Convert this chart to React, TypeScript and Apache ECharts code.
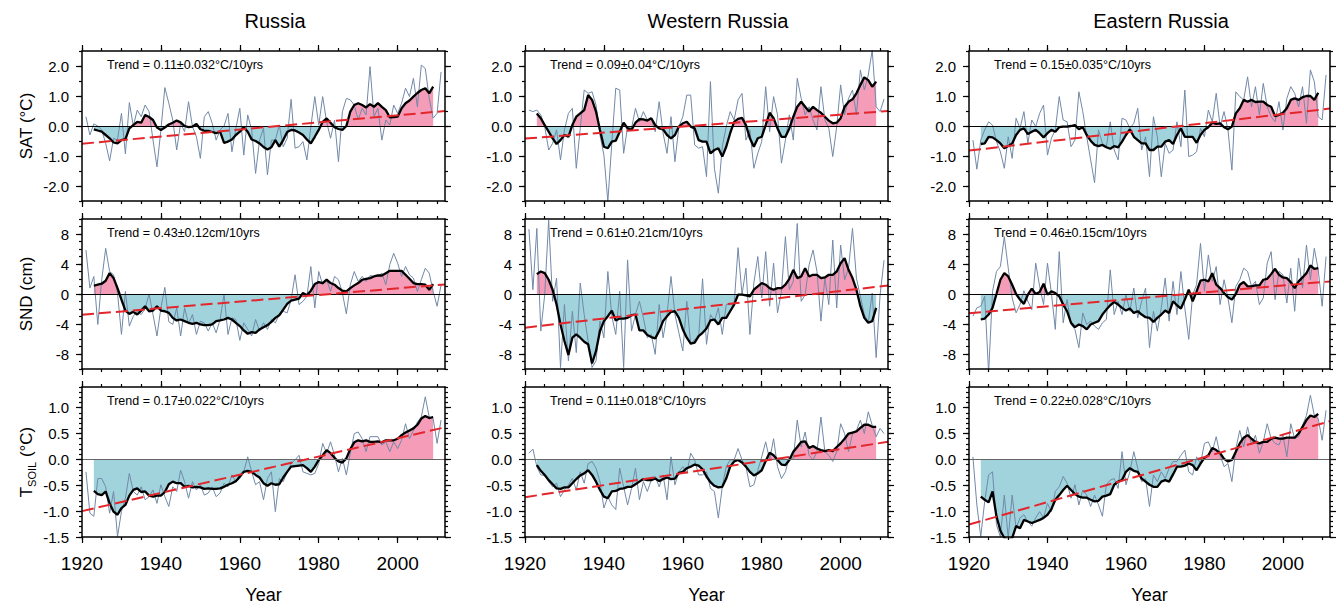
import React, { useEffect, useRef } from "react";
import * as echarts from "echarts";

// ---------------- data ----------------
const ANNUAL_START = 1921; // first year of the annual series
const SMOOTH_START = 1923; // first year of the smoothed series
const X_MIN = 1920;
const X_MAX = 2012;

const satRussiaAnnual = [
  0.31, -0.3, 0.07, 0.0, -0.13, -0.58, -1.16, -0.41, -0.47, 0.42,
  -0.93, 0.78, 0.0, 0.53, 0.31, 0.7, 0.48, -0.47, -1.36, -0.13,
  1.28, 0.76, 0.2, -0.8, 0.09, -0.19, 0.81, -0.02, -0.36, -1.08,
  0.31, 0.48, 0.09, -0.47, -0.13, 0.0, 0.42, -0.86, -0.08, 0.59,
  -0.97, 0.37, -0.13, -1.58, -0.47, -0.08, -1.63, -0.47, -0.47, 0.03,
  -0.69, -0.41, 0.89, -0.74, -0.69, -0.52, -1.13, -0.02, 0.98, 0.03,
  0.98, 0.14, -0.41, 0.2, -1.19, 0.48, 0.92, 0.87, 0.7, 0.2,
  0.59, 0.37, 1.98, 0.31, 0.59, -0.47, 0.2, 0.03, 0.7, 0.42,
  0.76, 1.26, 0.98, 1.59, 0.64, 2.03, 1.92, 0.92, 0.26, 0.42,
  1.8,
];
const satRussiaSmooth = [
  -0.11, -0.15, -0.19, -0.3, -0.41, -0.55, -0.58, -0.47, -0.44, -0.08,
  0.03, 0.14, 0.11, 0.37, 0.3, 0.2, -0.05, -0.13, -0.05, 0.05,
  0.11, 0.18, 0.12, 0.0, -0.04, -0.02, 0.07, -0.11, -0.16, -0.16,
  -0.2, -0.24, -0.19, -0.56, -0.52, -0.45, -0.3, -0.19, -0.04, -0.19,
  -0.45, -0.5, -0.58, -0.7, -0.78, -0.71, -0.47, -0.69, -0.47, -0.2,
  -0.13, -0.15, -0.22, -0.3, -0.45, -0.58, -0.36, -0.13, 0.14, 0.25,
  0.11, -0.04, -0.1, -0.13, 0.0, 0.48, 0.7, 0.76, 0.7, 0.62,
  0.73, 0.64, 0.76, 0.64, 0.53, 0.29, 0.3, 0.31, 0.59, 0.76,
  0.85, 0.98, 1.1, 1.2, 1.26, 1.09, 1.31,
];
const satWestAnnual = [
  0.53, 0.48, 0.53, 0.37, -0.02, -0.8, -0.58, -0.13, -1.13, -0.13,
  0.42, 0.59, -1.41, -0.08, 1.2, 1.09, 1.14, 0.7, -0.3, -0.97,
  -2.52, -0.58, 1.26, 1.2, -0.91, -0.02, -0.08, 0.59, 0.14, 0.48,
  0.2, 0.26, -0.19, 0.81, -0.24, -0.91, 0.31, -1.19, -0.02, 0.31,
  1.03, 1.03, -0.63, -0.74, -0.69, -1.69, 1.48, -1.41, -2.24, -0.69,
  -0.02, 0.48, 0.2, 0.87, 1.09, -0.47, -0.13, -1.41, -0.91, -0.52,
  1.31, -0.19, 0.98, 0.37, -1.24, -0.47, 0.37, -0.47, 1.59, 0.92,
  0.37, 0.64, 0.2, -0.13, 1.31, 0.2, -0.08, -1.02, -0.02, 1.37,
  0.37, 0.92, 1.2, 0.37, 1.87, 1.2, 1.7, 2.53, 0.64, 0.48,
  0.9,
];
const satWestSmooth = [
  0.42, 0.26, 0.03, -0.19, -0.41, -0.6, -0.47, -0.3, -0.36, 0.03,
  0.31, 0.42, 0.53, 1.03, 0.87, 0.48, -0.13, -0.69, -0.74, -0.52,
  -0.49, -0.19, 0.11, -0.08, -0.13, 0.11, 0.23, 0.22, 0.18, 0.26,
  0.03, -0.08, -0.11, -0.3, -0.41, -0.3, -0.02, 0.09, 0.14, -0.02,
  -0.08, -0.47, -0.52, -0.52, -0.91, -0.8, -0.74, -1.02, -0.69, -0.24,
  0.14, 0.24, 0.27, 0.03, -0.41, -0.69, -0.41, -0.36, 0.03, 0.44,
  0.26, -0.08, -0.36, -0.36, -0.08, 0.31, 0.64, 0.81, 0.64, 0.48,
  0.64, 0.53, 0.44, 0.31, 0.18, 0.09, 0.11, 0.26, 0.64, 0.81,
  0.89, 1.09, 1.37, 1.62, 1.53, 1.31, 1.48,
];
const satEastAnnual = [
  -0.47, -1.44, -0.47, -0.13, 0.14, 0.03, -0.52, -0.86, -1.41, -0.36,
  -1.08, 0.26, -0.08, 0.48, -0.58, 0.2, -0.02, 0.42, 0.7, -0.97,
  -0.41, -0.13, 0.98, 0.2, 0.14, -0.69, -0.47, 1.14, 0.48, -0.36,
  -1.13, -1.89, -0.13, -0.58, -0.69, 0.14, -0.8, -1.13, 0.26, 0.2,
  -0.08, 0.09, 0.59, -0.8, -0.36, -1.69, 0.31, -0.36, -1.69, -0.58,
  -0.91, -0.8, 0.14, -0.69, 1.2, -1.02, -0.97, -0.86, -0.08, -0.36,
  0.53, 0.14, 1.09, -0.02, 0.48, -0.13, -1.47, 1.14, 0.98, 0.87,
  1.64, 0.64, 1.31, 0.37, 1.42, 0.64, 0.31, 0.14, 0.81, -0.13,
  0.92, 1.31, 1.09, 0.64, 1.31, 0.09, 1.87, 1.48, 0.31, 0.2,
  1.7,
];
const satEastSmooth = [
  -0.6, -0.58, -0.36, -0.38, -0.47, -0.58, -0.74, -0.67, -0.58, -0.3,
  -0.13, -0.08, -0.27, -0.19, -0.13, -0.24, -0.38, -0.24, -0.13, -0.19,
  -0.04, -0.02, -0.02, 0.0, 0.03, -0.11, -0.04, -0.3, -0.49, -0.63,
  -0.67, -0.63, -0.71, -0.76, -0.67, -0.71, -0.52, -0.3, -0.11, -0.36,
  -0.47, -0.58, -0.58, -0.8, -0.8, -0.69, -0.69, -0.52, -0.47, -0.6,
  -0.3, -0.08, -0.36, -0.36, -0.36, -0.56, -0.3, -0.13, -0.04, 0.11,
  0.07, 0.09, -0.04, -0.11, -0.02, 0.42, 0.59, 0.87, 0.81, 0.87,
  0.8, 0.81, 0.81, 0.7, 0.64, 0.33, 0.37, 0.44, 0.59, 0.87,
  0.92, 0.87, 0.96, 1.0, 1.0, 0.87, 1.11,
];

const sndRussiaAnnual = [
  5.87, 0.79, 2.34, -4.06, 1.9, 6.09, 3.0, 2.56, 0.13, -5.39,
  0.35, -4.28, -2.96, -2.3, -2.74, -1.94, 0.0, -2.74, -5.6, -1.85,
  0.88, -3.7, -4.06, -1.85, -5.6, -1.85, -3.97, -2.74, -5.39, -3.62,
  -3.84, -4.94, -3.84, -5.17, -3.4, 0.0, -5.39, -3.18, -3.4, -6.18,
  -3.84, -4.72, -5.6, -3.4, -4.94, -3.84, -4.72, -3.4, -3.84, -2.74,
  -2.3, -2.52, -0.75, 2.56, -1.41, -0.97, -0.31, 3.66, -1.85, 3.0,
  1.24, 1.9, 0.35, 2.34, 1.9, 0.13, -2.65, 1.24, 3.0, 1.68,
  2.34, 1.68, 2.47, 2.34, 2.34, 2.78, 1.24, 3.89, 5.43, 4.11,
  2.34, 3.66, 2.56, 2.12, 0.35, 1.9, 3.44, 2.78, 0.35, -1.63,
  1.2,
];
const sndRussiaSmooth = [
  1.1, 1.24, 1.37, 1.77, 2.78, 2.12, 0.79, -0.75, -2.21, -2.65,
  -2.38, -2.74, -2.21, -1.63, -2.3, -2.21, -1.63, -2.21, -2.3, -2.52,
  -3.18, -3.53, -3.4, -3.62, -3.84, -3.97, -3.84, -4.06, -4.15, -4.15,
  -4.06, -3.62, -3.53, -3.4, -3.18, -3.4, -3.84, -4.28, -4.86, -5.3,
  -5.08, -5.17, -4.72, -4.42, -4.15, -3.71, -3.18, -2.83, -2.08, -1.32,
  -0.88, -0.75, -0.62, 0.13, -0.18, 0.44, 1.32, 1.59, 1.46, 1.9,
  1.46, 1.24, 0.79, 0.44, 0.35, 0.79, 1.15, 1.46, 1.9, 2.03,
  2.12, 2.34, 2.47, 2.47, 2.78, 3.09, 3.09, 3.09, 3.09, 2.56,
  2.03, 1.46, 1.32, 1.32, 1.24, 0.57, 1.32,
];
const sndWestAnnual = [
  8.65, 0.57, 8.74, -4.94, -0.09, 9.85, -0.97, 2.12, -9.8, -1.41,
  -8.92, -2.3, -7.81, 1.46, -2.74, -6.27, -9.8, -8.92, -3.62, -5.83,
  3.0, -2.96, -5.39, 0.35, -9.8, 4.55, -4.94, -2.74, -0.97, -3.18,
  -5.83, -5.39, -8.04, -1.41, -5.83, -2.74, 2.34, -2.74, -5.17, -7.59,
  -0.97, -6.71, -6.05, -5.83, 2.03, -6.71, -2.74, -3.62, -1.85, -5.39,
  -1.41, -1.41, -1.41, 6.18, -0.09, 3.44, -5.39, 1.46, 4.99, -0.53,
  5.65, -1.63, 4.11, -2.52, 0.35, 7.64, 0.57, 1.68, 9.4, -0.97,
  -0.09, 3.89, 5.87, 3.0, -3.62, 2.12, -1.41, 7.2, -1.85, 6.53,
  1.9, 3.44, 8.74, 2.12, -0.31, -2.74, -3.84, 0.13, -8.48, -0.09,
  4.5,
];
const sndWestSmooth = [
  2.65, 3.0, 2.78, 1.9, 0.57, -1.41, -4.06, -6.27, -8.12, -5.83,
  -5.39, -5.83, -6.36, -6.71, -9.27, -7.59, -4.94, -3.62, -2.96, -2.21,
  -3.53, -3.27, -3.27, -3.18, -2.83, -2.74, -4.86, -4.86, -5.47, -5.74,
  -5.92, -4.94, -3.62, -2.96, -2.38, -2.3, -3.18, -4.72, -5.83, -6.62,
  -6.49, -5.61, -5.17, -4.59, -3.53, -3.4, -4.06, -3.18, -3.18, -2.3,
  -1.41, -0.09, -0.09, -0.18, -0.31, 0.57, 1.02, 1.46, 1.24, 0.79,
  0.57, 0.79, 0.79, 1.24, 2.03, 3.22, 2.12, 2.34, 3.44, 2.34,
  2.56, 2.56, 2.12, 2.21, 2.56, 2.56, 3.0, 4.11, 4.77, 3.22,
  2.12, 0.57, -1.63, -3.18, -3.84, -3.62, -1.85,
];
const sndEastAnnual = [
  -2.96, -1.85, -1.63, -0.31, -10.5, 0.35, 3.0, 3.66, 7.64, 3.44,
  -0.53, -2.52, -1.41, 0.44, -0.97, -2.08, 4.11, 1.02, -1.41, 4.11,
  0.13, -4.72, 5.65, -3.84, -0.75, -4.06, -4.72, -7.15, -2.52, -4.06,
  -3.62, -4.28, -4.72, -3.84, -3.4, 3.22, -2.74, -0.97, -2.74, -0.09,
  -2.3, 0.79, -3.18, -0.97, 0.79, -7.15, -2.3, -4.94, -1.85, 2.12,
  -3.62, 1.68, -2.74, 3.0, -1.85, -6.05, -0.09, 1.24, 6.75, 0.35,
  5.21, 1.68, 3.66, -1.41, 1.9, -0.53, -3.84, 1.02, 1.9, 3.44,
  3.0, 1.02, 1.68, -1.41, -0.53, 4.11, 5.65, -0.75, 3.0, 2.56,
  -1.19, 3.44, -2.3, 4.77, 0.79, 6.53, 1.9, 6.09, 3.22, -1.63,
  4.99,
];
const sndEastSmooth = [
  -3.4, -3.27, -2.74, -1.85, 0.0, 1.9, 2.78, 2.34, 1.24, 0.0,
  -0.75, -1.32, -0.09, 0.71, 0.0, 0.26, 1.37, -0.09, 0.35, 0.13,
  -0.31, -1.41, -2.3, -3.84, -4.42, -4.06, -4.28, -4.72, -4.06, -3.84,
  -3.62, -2.74, -2.08, -1.5, -1.06, -1.41, -1.85, -2.21, -1.94, -2.52,
  -2.3, -2.74, -3.09, -3.18, -3.71, -3.18, -2.74, -2.21, -2.52, -0.97,
  -1.5, -1.94, -0.75, 0.57, -0.97, 0.35, 1.77, 1.9, 1.68, 2.78,
  1.24, 0.79, 0.13, -0.44, -0.75, 0.0, 1.24, 1.59, 1.02, 1.02,
  1.15, 1.15, 1.9, 2.03, 2.65, 3.36, 2.56, 2.21, 2.12, 1.59,
  0.79, 1.68, 2.21, 2.78, 3.8, 3.36, 3.44,
];

const tsoilRussiaAnnual = [
  -0.24, -1.04, -1.1, -0.37, -0.37, -0.53, -1.04, -0.62, -1.49, -1.01,
  -0.75, -0.27, -0.62, -0.69, -0.53, -0.78, -0.72, -0.59, -0.85, -0.49,
  -0.72, -0.91, -0.53, -0.62, -0.21, -0.43, -0.75, -0.43, -0.59, -0.49,
  -0.69, -0.65, -0.53, -0.72, -0.65, -0.46, -0.53, -0.3, -0.43, -0.37,
  -0.24, 0.05, -0.24, -0.49, -0.43, -0.78, -0.37, -0.24, -1.01, -0.37,
  -0.43, -0.24, -0.08, -0.01, 0.08, -0.24, -0.27, -0.3, -0.27, -0.08,
  0.31, 0.12, 0.34, 0.08, -0.24, 0.02, -0.3, 0.12, 0.5, 0.53,
  0.4, 0.15, 0.44, 0.44, 0.44, 0.28, 0.34, 0.15, 0.34, 0.21,
  0.37, 0.69, 0.4, 0.56, 0.72, 0.82, 1.21, 0.82, 0.79, 0.31,
  0.76,
];
const tsoilRussiaSmooth = [
  -0.61, -0.67, -0.69, -0.62, -0.85, -1.01, -1.07, -0.94, -0.88, -0.7,
  -0.59, -0.56, -0.63, -0.62, -0.7, -0.72, -0.7, -0.7, -0.63, -0.48,
  -0.43, -0.46, -0.46, -0.53, -0.51, -0.54, -0.53, -0.54, -0.57, -0.56,
  -0.57, -0.57, -0.56, -0.53, -0.49, -0.46, -0.42, -0.33, -0.24, -0.22,
  -0.24, -0.3, -0.35, -0.46, -0.51, -0.46, -0.49, -0.48, -0.35, -0.24,
  -0.14, -0.13, -0.12, -0.11, -0.17, -0.24, -0.14, -0.01, 0.08, 0.18,
  0.12, 0.03, -0.04, -0.06, 0.02, 0.2, 0.33, 0.37, 0.35, 0.37,
  0.34, 0.34, 0.35, 0.33, 0.37, 0.37, 0.37, 0.4, 0.47, 0.52,
  0.56, 0.6, 0.67, 0.79, 0.84, 0.8, 0.82,
];
const tsoilWestAnnual = [
  0.12, 0.2, -0.14, -0.3, -0.31, -0.43, -0.53, -0.46, -0.72, -0.59,
  -0.49, -0.37, -0.59, -0.24, -0.46, -0.08, -0.04, -0.17, -0.43, -0.94,
  -0.72, -0.88, -0.97, -0.17, -0.53, -0.88, -0.56, -0.17, -0.78, -0.43,
  -0.62, -0.4, -0.33, -0.53, -0.3, -0.78, 0.05, -0.49, -0.24, -0.14,
  -0.27, 0.12, -0.01, -0.3, -0.3, -0.24, -0.56, -0.62, -1.13, -0.53,
  -0.14, -0.01, -0.01, 0.21, -0.01, -0.14, -0.53, -0.49, -0.21, 0.05,
  0.34, -0.01, 0.4, -0.14, -0.37, -0.24, 0.05, 0.02, 0.76, 0.24,
  0.53, 0.08, -0.01, 0.15, 0.82, 0.15, 0.08, -0.04, 0.15, 0.69,
  0.5, 0.15, 0.5, 0.56, 0.76, 0.5, 0.92, 0.66, 0.44, 0.6,
  0.5,
];
const tsoilWestSmooth = [
  -0.11, -0.22, -0.3, -0.4, -0.48, -0.56, -0.57, -0.54, -0.54, -0.46,
  -0.38, -0.31, -0.27, -0.21, -0.3, -0.43, -0.59, -0.72, -0.75, -0.62,
  -0.61, -0.57, -0.56, -0.53, -0.53, -0.48, -0.43, -0.38, -0.4, -0.4,
  -0.37, -0.42, -0.38, -0.35, -0.38, -0.37, -0.26, -0.24, -0.17, -0.14,
  -0.1, -0.12, -0.19, -0.33, -0.44, -0.51, -0.54, -0.53, -0.37, -0.14,
  -0.04, -0.01, -0.06, -0.14, -0.24, -0.31, -0.27, -0.21, -0.03, 0.13,
  0.08, -0.01, -0.1, -0.11, -0.01, 0.15, 0.24, 0.34, 0.35, 0.22,
  0.26, 0.21, 0.18, 0.16, 0.18, 0.16, 0.24, 0.31, 0.4, 0.5,
  0.52, 0.54, 0.61, 0.67, 0.67, 0.63, 0.63,
];
const tsoilEastAnnual = [
  0.05, -0.88, -1.49, -0.81, -0.3, -0.24, -1.26, -1.5, -0.69, -1.52,
  -0.69, -1.33, -1.13, -1.07, -1.2, -1.29, -1.13, -1.01, -1.13, -0.85,
  -1.01, -0.62, -0.53, -0.33, -0.46, -0.75, -0.49, -0.88, -0.59, -0.69,
  -0.91, -0.69, -0.88, -1.1, -0.49, -0.4, -0.37, -0.56, 0.15, -0.49,
  -0.24, 0.15, -0.17, -0.43, -0.37, -0.91, -0.3, -0.43, -0.24, -0.37,
  -0.17, -0.04, -0.04, 0.08, 0.18, -0.24, -0.3, 0.05, -0.08, 0.31,
  0.34, 0.15, 0.44, 0.08, -0.14, -0.08, -0.43, 0.21, 0.56, 0.24,
  0.63, 0.28, 0.47, 0.12, 0.34, 0.69, 0.4, 0.31, 0.28, 0.47,
  0.05, 0.69, 0.4, 0.44, 0.66, 0.85, 1.24, 0.85, 0.79, 0.37,
  0.95,
];
const tsoilEastSmooth = [
  -0.72, -0.78, -0.83, -0.62, -1.1, -1.38, -1.52, -1.55, -1.52, -1.29,
  -1.33, -1.17, -1.2, -1.23, -1.2, -1.17, -1.13, -1.07, -0.96, -0.78,
  -0.69, -0.59, -0.51, -0.59, -0.67, -0.72, -0.74, -0.74, -0.78, -0.81,
  -0.8, -0.72, -0.7, -0.67, -0.49, -0.43, -0.4, -0.24, -0.17, -0.22,
  -0.24, -0.37, -0.43, -0.49, -0.53, -0.53, -0.43, -0.4, -0.43, -0.29,
  -0.14, -0.14, -0.12, -0.08, -0.11, -0.21, -0.08, 0.03, 0.08, 0.22,
  0.18, 0.12, 0.01, -0.04, -0.01, 0.15, 0.31, 0.42, 0.47, 0.4,
  0.34, 0.31, 0.34, 0.34, 0.4, 0.42, 0.4, 0.4, 0.42, 0.42,
  0.42, 0.5, 0.63, 0.76, 0.85, 0.82, 0.88,
];

// linear trend: value at X_MIN and at X_MAX
const satRussiaTrend = [-0.59, 0.5];
const satWestTrend = [-0.42, 0.5];
const satEastTrend = [-0.82, 0.58];
const sndRussiaTrend = [-2.77, 1.28];
const sndWestTrend = [-4.49, 1.14];
const sndEastTrend = [-2.57, 1.68];
const tsoilRussiaTrend = [-1.0, 0.62];
const tsoilWestTrend = [-0.73, 0.34];
const tsoilEastTrend = [-1.26, 0.74];

const trendTexts = [
  ["Trend = 0.11\u00b10.032\u00b0C/10yrs", "Trend = 0.09\u00b10.04\u00b0C/10yrs", "Trend = 0.15\u00b10.035\u00b0C/10yrs"],
  ["Trend = 0.43\u00b10.12cm/10yrs", "Trend = 0.61\u00b10.21cm/10yrs", "Trend = 0.46\u00b10.15cm/10yrs"],
  ["Trend = 0.17\u00b10.022\u00b0C/10yrs", "Trend = 0.11\u00b10.018\u00b0C/10yrs", "Trend = 0.22\u00b10.028\u00b0C/10yrs"],
];

const columnTitles = ["Russia", "Western Russia", "Eastern Russia"];
const xTickLabels = [1920, 1940, 1960, 1980, 2000];

const yTickLabels = [
  [-2, -1, 0, 1, 2],
  [-8, -4, 0, 4, 8],
  [-1.5, -1, -0.5, 0, 0.5, 1],
];

// ---------------- layout & style ----------------
const FONT = '"Liberation Sans", Arial, Helvetica, sans-serif';
const PINK = "#f59cb8";
const BLUE = "#a0d3dc";
const THIN = "#7189a8";
const RED = "#e3262b";

const colLeft = [82, 525, 969];
const colWidth = [363, 363, 361];
const rowTop = [51, 219, 387];
const rowH = 150;
const yRange = [
  { min: -2.5, max: 2.5, minorStep: 0.5, dec: 1 },
  { min: -10, max: 10, minorStep: 1, dec: 0 },
  { min: -1.5, max: 1.4, minorStep: 0.1, dec: 1 },
];
const titleX = [275, 718, 1161];
const zeroColor = ["#000", "#000", "#666"];

function stepValues(min: number, max: number, step: number) {
  const out: number[] = [];
  const n = Math.round((max - min) / step);
  for (let i = 0; i <= n; i++) out.push(+(min + i * step).toFixed(4));
  return out;
}

const panels = [
  [
    { annual: satRussiaAnnual, smooth: satRussiaSmooth, trend: satRussiaTrend },
    { annual: satWestAnnual, smooth: satWestSmooth, trend: satWestTrend },
    { annual: satEastAnnual, smooth: satEastSmooth, trend: satEastTrend },
  ],
  [
    { annual: sndRussiaAnnual, smooth: sndRussiaSmooth, trend: sndRussiaTrend },
    { annual: sndWestAnnual, smooth: sndWestSmooth, trend: sndWestTrend },
    { annual: sndEastAnnual, smooth: sndEastSmooth, trend: sndEastTrend },
  ],
  [
    { annual: tsoilRussiaAnnual, smooth: tsoilRussiaSmooth, trend: tsoilRussiaTrend },
    { annual: tsoilWestAnnual, smooth: tsoilWestSmooth, trend: tsoilWestTrend },
    { annual: tsoilEastAnnual, smooth: tsoilEastSmooth, trend: tsoilEastTrend },
  ],
];

function buildOption() {
  const grid: any[] = [];
  const xAxis: any[] = [];
  const yAxis: any[] = [];
  const series: any[] = [];
  const visualMap: any[] = [];
  const graphic: any[] = [];
  const xMinor = stepValues(1920, 2010, 5);
  const lineSt = { color: "#000", width: 1.5 };
  const tickSt = { color: "#000", width: 1.2 };

  let g = 0;
  for (let r = 0; r < 3; r++) {
    const yr = yRange[r];
    const yMinor = stepValues(yr.min, yr.max, yr.minorStep);
    for (let c = 0; c < 3; c++) {
      const p = panels[r][c];
      grid.push({ left: colLeft[c], top: rowTop[r], width: colWidth[c], height: rowH, show: false });
      const xi = xAxis.length;
      const yi = yAxis.length;
      const bx = {
        type: "value", gridIndex: g, min: X_MIN, max: X_MAX, z: 10,
        splitLine: { show: false }, axisLine: { show: false, onZero: false },
        axisLabel: { show: false }, axisTick: { show: false },
      };
      xAxis.push({
        ...bx, position: "bottom",
        axisLine: { show: true, onZero: false, lineStyle: lineSt },
        axisTick: { show: true, customValues: xTickLabels, length: 6, lineStyle: tickSt },
        axisLabel: {
          show: r === 2, customValues: xTickLabels, fontSize: 19, color: "#000",
          fontFamily: FONT, margin: 17, formatter: (v: number) => String(v),
        },
      });
      xAxis.push({ ...bx, position: "bottom", axisTick: { show: true, customValues: xMinor, length: 3, lineStyle: tickSt } });
      xAxis.push({
        ...bx, position: "top",
        axisLine: { show: true, onZero: false, lineStyle: lineSt },
        axisTick: { show: true, customValues: xTickLabels, length: 6, lineStyle: tickSt },
      });
      xAxis.push({ ...bx, position: "top", axisTick: { show: true, customValues: xMinor, length: 3, lineStyle: tickSt } });

      const by = {
        type: "value", gridIndex: g, min: yr.min, max: yr.max, z: 10,
        splitLine: { show: false }, axisLine: { show: false, onZero: false },
        axisLabel: { show: false }, axisTick: { show: false },
      };
      yAxis.push({
        ...by, position: "left",
        axisLine: { show: true, onZero: false, lineStyle: lineSt },
        axisTick: { show: true, customValues: yTickLabels[r], length: 6, lineStyle: tickSt },
        axisLabel: {
          show: true, customValues: yTickLabels[r], fontSize: 15, color: "#000", fontFamily: FONT,
          margin: 13, formatter: (v: number) => v.toFixed(yr.dec),
        },
      });
      yAxis.push({ ...by, position: "left", axisTick: { show: true, customValues: yMinor, length: 3, lineStyle: tickSt } });
      yAxis.push({
        ...by, position: "right",
        axisLine: { show: true, onZero: false, lineStyle: lineSt },
        axisTick: { show: true, customValues: yTickLabels[r], length: 6, lineStyle: tickSt },
      });
      yAxis.push({ ...by, position: "right", axisTick: { show: true, customValues: yMinor, length: 3, lineStyle: tickSt } });

      const smoothData = p.smooth.map((v, k) => [SMOOTH_START + k, v]);
      const annualData = p.annual.map((v, k) => [ANNUAL_START + k, v]);
      const trendData = [[X_MIN, p.trend[0]], [X_MAX, p.trend[1]]];
      const common = { xAxisIndex: xi, yAxisIndex: yi, showSymbol: false, symbol: "none", silent: true, animation: false };

      const fillIdx = series.length;
      series.push({
        ...common, type: "line", data: smoothData, z: 2,
        lineStyle: { width: 0, opacity: 0 },
        areaStyle: { opacity: 1, origin: 0 },
      });
      visualMap.push({
        type: "piecewise", show: false, seriesIndex: fillIdx, dimension: 1,
        pieces: [{ gte: -1000, lt: 0, color: BLUE }, { gte: 0, lte: 1000, color: PINK }],
      });
      series.push({
        ...common, type: "line", data: annualData, z: 3,
        lineStyle: { color: THIN, width: 1 }, itemStyle: { color: THIN },
        markLine: {
          silent: true, symbol: "none", animation: false,
          label: { show: false },
          lineStyle: { color: zeroColor[r], width: 1, type: "solid" },
          data: [{ yAxis: 0 }],
        },
      });
      series.push({
        ...common, type: "line", data: smoothData, z: 4,
        lineStyle: { color: "#000", width: 2.3 }, itemStyle: { color: "#000" },
      });
      series.push({
        ...common, type: "line", data: trendData, z: 5,
        lineStyle: { color: RED, width: 2, type: [12, 5] }, itemStyle: { color: RED },
      });

      graphic.push({
        type: "text", x: colLeft[c] + 25, y: rowTop[r] + 14, silent: true,
        style: {
          text: trendTexts[r][c], fill: "#000", fontSize: 12.5, fontFamily: FONT,
          align: "left", verticalAlign: "middle",
        },
      });
      g++;
    }
  }

  // column titles and x-axis names
  for (let c = 0; c < 3; c++) {
    graphic.push({
      type: "text", x: titleX[c], y: 21, silent: true,
      style: { text: columnTitles[c], fill: "#000", fontSize: 20, fontFamily: FONT, align: "center", verticalAlign: "middle" },
    });
    graphic.push({
      type: "text", x: colLeft[c] + colWidth[c] / 2, y: 595, silent: true,
      style: { text: "Year", fill: "#000", fontSize: 18, fontFamily: FONT, align: "center", verticalAlign: "middle" },
    });
  }
  // y-axis names
  const yNameX = 26;
  graphic.push({
    type: "text", x: yNameX, y: rowTop[0] + rowH / 2, rotation: Math.PI / 2, silent: true,
    style: { text: "SAT (\u00b0C)", fill: "#000", fontSize: 17, fontFamily: FONT, align: "center", verticalAlign: "middle" },
  });
  graphic.push({
    type: "text", x: yNameX, y: rowTop[1] + rowH / 2, rotation: Math.PI / 2, silent: true,
    style: { text: "SND (cm)", fill: "#000", fontSize: 17, fontFamily: FONT, align: "center", verticalAlign: "middle" },
  });
  graphic.push({
    type: "text", x: yNameX, y: rowTop[2] + rowH / 2, rotation: Math.PI / 2, silent: true,
    style: {
      text: "{t|T}{s|SOIL}{t| (\u00b0C)}", fill: "#000", fontFamily: FONT, align: "center", verticalAlign: "middle",
      rich: {
        t: { fontSize: 17, fontFamily: FONT, fill: "#000", lineHeight: 22, verticalAlign: "middle" },
        s: { fontSize: 11, fontFamily: FONT, fill: "#000", lineHeight: 22, verticalAlign: "bottom" },
      },
    },
  });

  return {
    animation: false,
    backgroundColor: "#fff",
    grid, xAxis, yAxis, series, visualMap, graphic,
  };
}

export default function App() {
  const ref = useRef<HTMLDivElement>(null);
  useEffect(() => {
    const chart = echarts.init(ref.current as HTMLDivElement, null, { renderer: "svg" });
    chart.setOption(buildOption() as any);
    return () => chart.dispose();
  }, []);
  return (
    <div
      ref={ref}
      style={{ position: "absolute", left: 0, top: 0, width: 1343, height: 606 }}
    />
  );
}
